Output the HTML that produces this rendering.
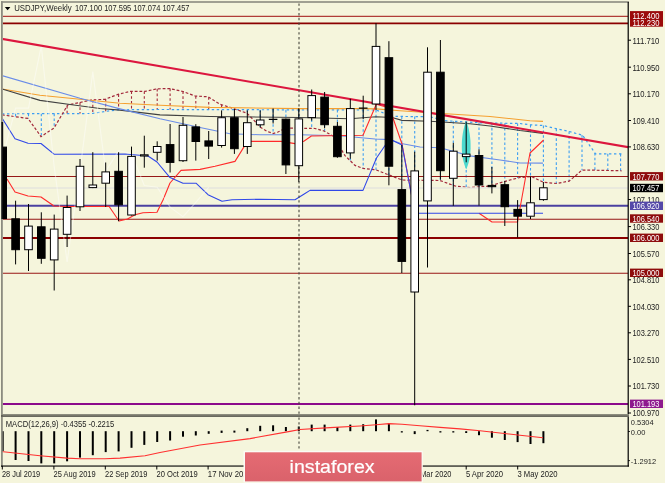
<!DOCTYPE html>
<html><head><meta charset="utf-8"><style>
html,body{margin:0;padding:0;background:#F5F5DC;width:665px;height:483px;overflow:hidden}
svg{position:absolute;left:0;top:0;filter:blur(0.3px)}
text{font-family:"Liberation Sans",Arial,sans-serif}
</style></head><body>
<svg width="665" height="483" viewBox="0 0 665 483">
<rect x="0" y="0" width="665" height="483" fill="#F5F5DC"/>

<defs><clipPath id="cm"><rect x="2.8" y="2.8" width="625.2" height="411.5"/></clipPath><clipPath id="cd"><rect x="1" y="417" width="627" height="49"/></clipPath></defs>
<g clip-path="url(#cm)">
<line x1="15.6" y1="113.8" x2="15.6" y2="116.7" stroke="#3C9EF2" stroke-width="1.1" stroke-dasharray="2.6,2.2"/>
<line x1="28.5" y1="113.7" x2="28.5" y2="119.1" stroke="#3C9EF2" stroke-width="1.1" stroke-dasharray="2.6,2.2"/>
<line x1="41.3" y1="113.7" x2="41.3" y2="136.4" stroke="#3C9EF2" stroke-width="1.1" stroke-dasharray="2.6,2.2"/>
<line x1="54.2" y1="113.6" x2="54.2" y2="127.6" stroke="#3C9EF2" stroke-width="1.1" stroke-dasharray="2.6,2.2"/>
<line x1="67.1" y1="106.0" x2="67.1" y2="113.6" stroke="#A3283A" stroke-width="1.1" stroke-dasharray="2.6,2.2"/>
<line x1="80.0" y1="102.5" x2="80.0" y2="113.5" stroke="#A3283A" stroke-width="1.1" stroke-dasharray="2.6,2.2"/>
<line x1="92.8" y1="99.9" x2="92.8" y2="113.4" stroke="#A3283A" stroke-width="1.1" stroke-dasharray="2.6,2.2"/>
<line x1="105.7" y1="99.0" x2="105.7" y2="111.4" stroke="#A3283A" stroke-width="1.1" stroke-dasharray="2.6,2.2"/>
<line x1="118.6" y1="94.3" x2="118.6" y2="109.8" stroke="#A3283A" stroke-width="1.1" stroke-dasharray="2.6,2.2"/>
<line x1="131.5" y1="91.4" x2="131.5" y2="109.7" stroke="#A3283A" stroke-width="1.1" stroke-dasharray="2.6,2.2"/>
<line x1="144.3" y1="91.4" x2="144.3" y2="109.6" stroke="#A3283A" stroke-width="1.1" stroke-dasharray="2.6,2.2"/>
<line x1="157.2" y1="88.8" x2="157.2" y2="109.5" stroke="#A3283A" stroke-width="1.1" stroke-dasharray="2.6,2.2"/>
<line x1="170.1" y1="88.6" x2="170.1" y2="109.5" stroke="#A3283A" stroke-width="1.1" stroke-dasharray="2.6,2.2"/>
<line x1="183.0" y1="91.5" x2="183.0" y2="109.6" stroke="#A3283A" stroke-width="1.1" stroke-dasharray="2.6,2.2"/>
<line x1="195.8" y1="96.1" x2="195.8" y2="109.6" stroke="#A3283A" stroke-width="1.1" stroke-dasharray="2.6,2.2"/>
<line x1="208.7" y1="97.2" x2="208.7" y2="109.6" stroke="#A3283A" stroke-width="1.1" stroke-dasharray="2.6,2.2"/>
<line x1="221.6" y1="104.8" x2="221.6" y2="109.6" stroke="#A3283A" stroke-width="1.1" stroke-dasharray="2.6,2.2"/>
<line x1="247.3" y1="109.7" x2="247.3" y2="113.5" stroke="#3C9EF2" stroke-width="1.1" stroke-dasharray="2.6,2.2"/>
<line x1="260.2" y1="109.7" x2="260.2" y2="127.1" stroke="#3C9EF2" stroke-width="1.1" stroke-dasharray="2.6,2.2"/>
<line x1="273.1" y1="109.8" x2="273.1" y2="133.5" stroke="#3C9EF2" stroke-width="1.1" stroke-dasharray="2.6,2.2"/>
<line x1="285.9" y1="109.8" x2="285.9" y2="128.0" stroke="#3C9EF2" stroke-width="1.1" stroke-dasharray="2.6,2.2"/>
<line x1="298.8" y1="109.8" x2="298.8" y2="128.2" stroke="#3C9EF2" stroke-width="1.1" stroke-dasharray="2.6,2.2"/>
<line x1="311.7" y1="109.9" x2="311.7" y2="128.4" stroke="#3C9EF2" stroke-width="1.1" stroke-dasharray="2.6,2.2"/>
<line x1="324.6" y1="109.9" x2="324.6" y2="131.3" stroke="#3C9EF2" stroke-width="1.1" stroke-dasharray="2.6,2.2"/>
<line x1="337.4" y1="109.9" x2="337.4" y2="143.2" stroke="#3C9EF2" stroke-width="1.1" stroke-dasharray="2.6,2.2"/>
<line x1="350.3" y1="109.9" x2="350.3" y2="160.8" stroke="#3C9EF2" stroke-width="1.1" stroke-dasharray="2.6,2.2"/>
<line x1="363.2" y1="110.0" x2="363.2" y2="168.4" stroke="#3C9EF2" stroke-width="1.1" stroke-dasharray="2.6,2.2"/>
<line x1="376.0" y1="110.0" x2="376.0" y2="169.9" stroke="#3C9EF2" stroke-width="1.1" stroke-dasharray="2.6,2.2"/>
<line x1="388.9" y1="115.1" x2="388.9" y2="175.0" stroke="#3C9EF2" stroke-width="1.1" stroke-dasharray="2.6,2.2"/>
<line x1="401.8" y1="116.4" x2="401.8" y2="179.9" stroke="#3C9EF2" stroke-width="1.1" stroke-dasharray="2.6,2.2"/>
<line x1="414.7" y1="116.6" x2="414.7" y2="180.2" stroke="#3C9EF2" stroke-width="1.1" stroke-dasharray="2.6,2.2"/>
<line x1="427.5" y1="116.8" x2="427.5" y2="180.3" stroke="#3C9EF2" stroke-width="1.1" stroke-dasharray="2.6,2.2"/>
<line x1="440.4" y1="119.5" x2="440.4" y2="180.7" stroke="#3C9EF2" stroke-width="1.1" stroke-dasharray="2.6,2.2"/>
<line x1="453.3" y1="121.2" x2="453.3" y2="185.4" stroke="#3C9EF2" stroke-width="1.1" stroke-dasharray="2.6,2.2"/>
<line x1="466.2" y1="122.0" x2="466.2" y2="187.1" stroke="#3C9EF2" stroke-width="1.1" stroke-dasharray="2.6,2.2"/>
<line x1="479.0" y1="122.7" x2="479.0" y2="186.8" stroke="#3C9EF2" stroke-width="1.1" stroke-dasharray="2.6,2.2"/>
<line x1="491.9" y1="123.0" x2="491.9" y2="185.4" stroke="#3C9EF2" stroke-width="1.1" stroke-dasharray="2.6,2.2"/>
<line x1="504.8" y1="123.2" x2="504.8" y2="181.5" stroke="#3C9EF2" stroke-width="1.1" stroke-dasharray="2.6,2.2"/>
<line x1="517.6" y1="123.5" x2="517.6" y2="178.1" stroke="#3C9EF2" stroke-width="1.1" stroke-dasharray="2.6,2.2"/>
<line x1="530.5" y1="124.8" x2="530.5" y2="176.7" stroke="#3C9EF2" stroke-width="1.1" stroke-dasharray="2.6,2.2"/>
<line x1="543.4" y1="125.6" x2="543.4" y2="182.3" stroke="#3C9EF2" stroke-width="1.1" stroke-dasharray="2.6,2.2"/>
<line x1="556.3" y1="128.7" x2="556.3" y2="183.5" stroke="#3C9EF2" stroke-width="1.1" stroke-dasharray="2.6,2.2"/>
<line x1="569.1" y1="131.4" x2="569.1" y2="181.1" stroke="#3C9EF2" stroke-width="1.1" stroke-dasharray="2.6,2.2"/>
<line x1="582.0" y1="135.1" x2="582.0" y2="170.2" stroke="#3C9EF2" stroke-width="1.1" stroke-dasharray="2.6,2.2"/>
<line x1="594.9" y1="152.9" x2="594.9" y2="170.2" stroke="#3C9EF2" stroke-width="1.1" stroke-dasharray="2.6,2.2"/>
<line x1="607.8" y1="153.8" x2="607.8" y2="170.5" stroke="#3C9EF2" stroke-width="1.1" stroke-dasharray="2.6,2.2"/>
<line x1="620.6" y1="153.8" x2="620.6" y2="170.8" stroke="#3C9EF2" stroke-width="1.1" stroke-dasharray="2.6,2.2"/>
<polyline points="2.0,113.8 92.0,113.5 105.0,111.5 118.0,109.8 160.0,109.5 376.0,110.0 392.0,116.3 430.0,116.8 445.0,120.7 480.0,122.8 520.0,123.5 531.0,124.9 543.0,125.5 556.0,128.6 569.0,131.4 582.5,135.2 595.5,153.8 621.6,153.8" fill="none" stroke="#3C9EF2" stroke-width="1.2" stroke-dasharray="2.4,2.6"/>
<polyline points="2.0,114.9 28.0,118.4 41.0,136.6 54.0,128.0 67.7,105.0 80.0,102.5 92.0,99.9 105.0,99.3 118.0,94.4 130.0,91.4 145.0,91.4 157.0,88.8 170.0,88.6 183.0,91.5 195.0,96.0 208.0,96.8 220.0,104.3 230.0,107.3 234.0,108.8 247.0,113.2 254.0,120.4 260.0,127.0 267.0,131.3 273.0,133.5 278.0,132.0 286.0,128.0 300.0,128.2 315.0,128.5 324.0,131.0 333.0,136.0 345.0,155.6 355.0,165.4 363.0,168.4 376.0,169.9 389.0,175.0 402.0,180.0 440.0,180.5 455.0,186.0 470.0,187.5 490.0,186.0 500.0,182.9 510.0,180.0 520.0,177.5 531.8,176.6 543.4,182.3 556.5,183.5 569.2,181.1 576.4,175.0 581.8,170.2 595.5,170.2 621.6,170.8" fill="none" stroke="#A3283A" stroke-width="1.2" stroke-dasharray="2.8,1.9"/>
<line x1="0" y1="16.3" x2="630" y2="16.3" stroke="#A01010" stroke-width="1"/>
<line x1="0" y1="23.3" x2="630" y2="23.3" stroke="#8B0000" stroke-width="1.8"/>
<line x1="0" y1="176.5" x2="630" y2="176.5" stroke="#961818" stroke-width="1.1"/>
<line x1="0" y1="187.9" x2="630" y2="187.9" stroke="#E4E4DE" stroke-width="1.5"/>
<line x1="0" y1="205.8" x2="630" y2="205.8" stroke="#4A40A0" stroke-width="2"/>
<line x1="0" y1="219.2" x2="630" y2="219.2" stroke="#941414" stroke-width="1.1"/>
<line x1="0" y1="238" x2="630" y2="238" stroke="#8B0000" stroke-width="2"/>
<line x1="0" y1="273.2" x2="630" y2="273.2" stroke="#981616" stroke-width="1.1"/>
<line x1="0" y1="404.1" x2="630" y2="404.1" stroke="#8B0A8B" stroke-width="2"/>
<polyline points="2.0,89.0 40.0,95.2 80.0,99.3 120.0,103.3 160.0,105.3 210.0,107.4 300.0,108.6 363.0,108.6 376.0,108.9 400.0,110.8 430.0,112.8 490.0,116.5 530.0,120.7 543.0,121.4" fill="none" stroke="#F5A030" stroke-width="1.1" stroke-linejoin="round"/>
<polyline points="2.0,89.0 40.0,100.4 70.0,104.5 100.0,108.5 120.0,110.1 160.0,114.9 210.0,116.5 300.0,117.5 350.0,118.8 376.0,116.7 392.0,117.5 402.0,120.4 430.0,121.3 470.0,123.8 490.0,126.0 520.0,130.5 543.0,133.4" fill="none" stroke="#404040" stroke-width="1.1" stroke-linejoin="round"/>
<polyline points="2.0,75.6 80.0,98.3 120.0,108.9 160.0,118.7 200.0,127.5 230.0,133.7 260.0,134.8 300.0,134.8 340.0,135.8 375.0,139.0 390.0,139.6 400.0,143.3 420.0,147.0 440.0,147.8 470.0,155.9 500.0,160.0 520.0,163.0 543.0,163.1" fill="none" stroke="#6A8CE8" stroke-width="1.1" stroke-linejoin="round"/>
<polyline points="7.0,179.0 15.0,192.0 28.0,196.0 41.0,197.0 54.0,206.0 67.0,206.5 109.0,206.2 119.0,221.0 127.5,219.0 135.0,214.8 143.0,212.8 157.0,212.3 163.0,200.0 170.0,183.0 181.0,170.4 200.0,169.4 215.0,166.3 235.0,161.4 247.4,141.4 281.0,141.4 295.0,143.6 303.8,141.3 311.4,136.0 363.0,135.3 376.3,104.3 389.5,108.0 402.0,144.0 415.0,213.3" fill="none" stroke="#FF2A2A" stroke-width="1.1" stroke-linejoin="round"/>
<polyline points="479.0,213.3 492.0,222.0 517.5,222.0 530.0,153.0 543.6,140.0" fill="none" stroke="#FF2A2A" stroke-width="1.1" stroke-linejoin="round"/>
<polyline points="2.0,118.0 15.0,138.7 28.0,143.2 41.0,143.5 54.0,154.2 125.0,154.0 148.0,156.0 157.0,162.0 170.0,177.6 183.0,183.2 196.0,183.2 208.0,194.7 222.0,201.2 232.0,199.7 260.0,199.2 295.0,199.8 305.0,193.5 310.0,190.4 363.0,190.4 376.5,158.0 389.5,139.0 402.0,145.0 415.0,213.3 543.0,213.3" fill="none" stroke="#3048E8" stroke-width="1.1" stroke-linejoin="round"/>
<polyline points="2.7,157.2 15.6,108.1 28.5,108.1 41.3,45.9 54.2,166.7 67.1,261.9 80.0,170.4 92.8,71.7 105.7,171.2 118.6,150.7 131.5,153.6 144.3,185.5 157.2,187.2 170.1,207.2 183.0,216.7 195.8,202.3 208.7,187.3" fill="none" stroke="#FFFFFF" stroke-width="1.2" stroke-opacity="0.42"/>
<line x1="0" y1="38.5" x2="630" y2="147.5" stroke="#DC163E" stroke-width="2.1"/>
<path d="M466.2,120.7 C469.2,128 470.8,138 470.6,148 C470.4,158 468.2,165 466.2,169.4 C464.2,165 462.0,158 461.8,148 C461.6,138 463.2,128 466.2,120.7 Z" fill="#4CD9CF"/>
<line x1="299" y1="3.4" x2="299" y2="415" stroke="#45453C" stroke-width="1.1" stroke-dasharray="2.4,2.4"/>
<line x1="2.7" y1="122" x2="2.7" y2="219" stroke="#000" stroke-width="1"/>
<rect x="-1.1" y="147.1" width="7.6" height="71.4" fill="#000" stroke="#000" stroke-width="1"/>
<line x1="15.6" y1="200.7" x2="15.6" y2="264.4" stroke="#000" stroke-width="1"/>
<rect x="11.8" y="218.8" width="7.6" height="30.9" fill="#000" stroke="#000" stroke-width="1"/>
<line x1="28.5" y1="204" x2="28.5" y2="271" stroke="#000" stroke-width="1"/>
<rect x="24.7" y="226.1" width="7.6" height="23.6" fill="#FFF" stroke="#000" stroke-width="1"/>
<line x1="41.3" y1="212.3" x2="41.3" y2="263.8" stroke="#000" stroke-width="1"/>
<rect x="37.5" y="226.8" width="7.6" height="31.5" fill="#000" stroke="#000" stroke-width="1"/>
<line x1="54.2" y1="214.6" x2="54.2" y2="290.5" stroke="#000" stroke-width="1"/>
<rect x="50.4" y="229.1" width="7.6" height="30.8" fill="#FFF" stroke="#000" stroke-width="1"/>
<line x1="67.1" y1="195.6" x2="67.1" y2="247" stroke="#000" stroke-width="1"/>
<rect x="63.3" y="207.5" width="7.6" height="26.8" fill="#FFF" stroke="#000" stroke-width="1"/>
<line x1="80.0" y1="159" x2="80.0" y2="211" stroke="#000" stroke-width="1"/>
<rect x="76.2" y="166.3" width="7.6" height="40.5" fill="#FFF" stroke="#000" stroke-width="1"/>
<line x1="92.8" y1="152.2" x2="92.8" y2="188.1" stroke="#000" stroke-width="1"/>
<rect x="89.0" y="185.0" width="7.6" height="2.6" fill="#FFF" stroke="#000" stroke-width="1"/>
<line x1="105.7" y1="162.5" x2="105.7" y2="207" stroke="#000" stroke-width="1"/>
<rect x="101.9" y="171.9" width="7.6" height="11.3" fill="#FFF" stroke="#000" stroke-width="1"/>
<line x1="118.6" y1="152.2" x2="118.6" y2="221.2" stroke="#000" stroke-width="1"/>
<rect x="114.8" y="171.3" width="7.6" height="33.5" fill="#000" stroke="#000" stroke-width="1"/>
<line x1="131.5" y1="146.6" x2="131.5" y2="215.5" stroke="#000" stroke-width="1"/>
<rect x="127.7" y="156.4" width="7.6" height="58.6" fill="#FFF" stroke="#000" stroke-width="1"/>
<line x1="144.3" y1="135.7" x2="144.3" y2="167.7" stroke="#000" stroke-width="1"/>
<rect x="140.5" y="154.8" width="7.6" height="1.2" fill="#FFF" stroke="#000" stroke-width="1"/>
<line x1="157.2" y1="141.3" x2="157.2" y2="160.6" stroke="#000" stroke-width="1"/>
<rect x="153.4" y="146.5" width="7.6" height="5.8" fill="#FFF" stroke="#000" stroke-width="1"/>
<line x1="170.1" y1="124" x2="170.1" y2="172.5" stroke="#000" stroke-width="1"/>
<rect x="166.3" y="144.6" width="7.6" height="17.8" fill="#000" stroke="#000" stroke-width="1"/>
<line x1="183.0" y1="117" x2="183.0" y2="162" stroke="#000" stroke-width="1"/>
<rect x="179.2" y="125.3" width="7.6" height="35.4" fill="#FFF" stroke="#000" stroke-width="1"/>
<line x1="195.8" y1="124.2" x2="195.8" y2="160.6" stroke="#000" stroke-width="1"/>
<rect x="192.0" y="126.9" width="7.6" height="14.6" fill="#000" stroke="#000" stroke-width="1"/>
<line x1="208.7" y1="131" x2="208.7" y2="159" stroke="#000" stroke-width="1"/>
<rect x="204.9" y="140.9" width="7.6" height="5.2" fill="#000" stroke="#000" stroke-width="1"/>
<line x1="221.6" y1="110.4" x2="221.6" y2="147.6" stroke="#000" stroke-width="1"/>
<rect x="217.8" y="117.7" width="7.6" height="27.8" fill="#FFF" stroke="#000" stroke-width="1"/>
<line x1="234.4" y1="108.8" x2="234.4" y2="153.9" stroke="#000" stroke-width="1"/>
<rect x="230.6" y="117.7" width="7.6" height="31.0" fill="#000" stroke="#000" stroke-width="1"/>
<line x1="247.3" y1="110.4" x2="247.3" y2="153.9" stroke="#000" stroke-width="1"/>
<rect x="243.5" y="122.7" width="7.6" height="23.8" fill="#FFF" stroke="#000" stroke-width="1"/>
<line x1="260.2" y1="110.4" x2="260.2" y2="127.4" stroke="#000" stroke-width="1"/>
<rect x="256.4" y="120.0" width="7.6" height="4.8" fill="#FFF" stroke="#000" stroke-width="1"/>
<line x1="273.1" y1="108.5" x2="273.1" y2="123.5" stroke="#000" stroke-width="1"/>
<line x1="268.8" y1="119.3" x2="277.4" y2="119.3" stroke="#000" stroke-width="1.2"/>
<line x1="285.9" y1="118.6" x2="285.9" y2="174" stroke="#000" stroke-width="1"/>
<rect x="282.1" y="119.1" width="7.6" height="45.8" fill="#000" stroke="#000" stroke-width="1"/>
<line x1="298.8" y1="108.3" x2="298.8" y2="181.8" stroke="#000" stroke-width="1"/>
<rect x="295.0" y="118.9" width="7.6" height="46.8" fill="#FFF" stroke="#000" stroke-width="1"/>
<line x1="311.7" y1="89.5" x2="311.7" y2="120.6" stroke="#000" stroke-width="1"/>
<rect x="307.9" y="95.6" width="7.6" height="22.0" fill="#FFF" stroke="#000" stroke-width="1"/>
<line x1="324.6" y1="92" x2="324.6" y2="128.3" stroke="#000" stroke-width="1"/>
<rect x="320.8" y="97.1" width="7.6" height="27.6" fill="#000" stroke="#000" stroke-width="1"/>
<line x1="337.4" y1="122" x2="337.4" y2="157.8" stroke="#000" stroke-width="1"/>
<rect x="333.6" y="126.3" width="7.6" height="30.4" fill="#000" stroke="#000" stroke-width="1"/>
<line x1="350.3" y1="98.8" x2="350.3" y2="158.7" stroke="#000" stroke-width="1"/>
<rect x="346.5" y="108.6" width="7.6" height="44.3" fill="#FFF" stroke="#000" stroke-width="1"/>
<line x1="363.2" y1="95.7" x2="363.2" y2="119" stroke="#000" stroke-width="1"/>
<line x1="358.9" y1="108.1" x2="367.5" y2="108.1" stroke="#000" stroke-width="1.2"/>
<line x1="376.0" y1="23.2" x2="376.0" y2="110" stroke="#000" stroke-width="1"/>
<rect x="372.2" y="46.4" width="7.6" height="57.6" fill="#FFF" stroke="#000" stroke-width="1"/>
<line x1="388.9" y1="41.2" x2="388.9" y2="185.3" stroke="#000" stroke-width="1"/>
<rect x="385.1" y="57.7" width="7.6" height="108.5" fill="#000" stroke="#000" stroke-width="1"/>
<line x1="401.8" y1="145" x2="401.8" y2="273" stroke="#000" stroke-width="1"/>
<rect x="398.0" y="189.6" width="7.6" height="71.8" fill="#000" stroke="#000" stroke-width="1"/>
<line x1="414.7" y1="151.7" x2="414.7" y2="405.3" stroke="#000" stroke-width="1"/>
<rect x="410.9" y="170.9" width="7.6" height="121.1" fill="#FFF" stroke="#000" stroke-width="1"/>
<line x1="427.5" y1="47.3" x2="427.5" y2="267.5" stroke="#000" stroke-width="1"/>
<rect x="423.7" y="72.2" width="7.6" height="128.7" fill="#FFF" stroke="#000" stroke-width="1"/>
<line x1="440.4" y1="40" x2="440.4" y2="179.7" stroke="#000" stroke-width="1"/>
<rect x="436.6" y="72.2" width="7.6" height="98.5" fill="#000" stroke="#000" stroke-width="1"/>
<line x1="453.3" y1="142.9" x2="453.3" y2="205.8" stroke="#000" stroke-width="1"/>
<rect x="449.5" y="151.2" width="7.6" height="27.1" fill="#FFF" stroke="#000" stroke-width="1"/>
<line x1="466.2" y1="121.7" x2="466.2" y2="162.3" stroke="#000" stroke-width="1"/>
<rect x="462.4" y="154.1" width="7.6" height="2.5" fill="#FFF" stroke="#000" stroke-width="1"/>
<line x1="479.0" y1="149.3" x2="479.0" y2="205.6" stroke="#000" stroke-width="1"/>
<rect x="475.2" y="155.5" width="7.6" height="29.5" fill="#000" stroke="#000" stroke-width="1"/>
<line x1="491.9" y1="167" x2="491.9" y2="193.4" stroke="#000" stroke-width="1"/>
<rect x="488.1" y="185.4" width="7.6" height="1.3" fill="#000" stroke="#000" stroke-width="1"/>
<line x1="504.8" y1="181" x2="504.8" y2="226" stroke="#000" stroke-width="1"/>
<rect x="501.0" y="184.7" width="7.6" height="22.0" fill="#000" stroke="#000" stroke-width="1"/>
<line x1="517.6" y1="200.1" x2="517.6" y2="237.5" stroke="#000" stroke-width="1"/>
<rect x="513.9" y="209.4" width="7.6" height="6.8" fill="#000" stroke="#000" stroke-width="1"/>
<line x1="530.5" y1="176.7" x2="530.5" y2="219" stroke="#000" stroke-width="1"/>
<rect x="526.7" y="202.8" width="7.6" height="13.4" fill="#FFF" stroke="#000" stroke-width="1"/>
<line x1="543.4" y1="182" x2="543.4" y2="200.8" stroke="#000" stroke-width="1"/>
<rect x="539.6" y="187.8" width="7.6" height="11.8" fill="#FFF" stroke="#000" stroke-width="1"/>
</g>
<g clip-path="url(#cd)">
<rect x="1.7" y="431.2" width="2" height="19.8" fill="#000"/>
<rect x="14.6" y="431.2" width="2" height="28.8" fill="#000"/>
<rect x="27.5" y="431.2" width="2" height="29.8" fill="#000"/>
<rect x="40.3" y="431.2" width="2" height="32.2" fill="#000"/>
<rect x="53.2" y="431.2" width="2" height="32.2" fill="#000"/>
<rect x="66.1" y="431.2" width="2" height="30.1" fill="#000"/>
<rect x="79.0" y="431.2" width="2" height="26.4" fill="#000"/>
<rect x="91.8" y="431.2" width="2" height="24.0" fill="#000"/>
<rect x="104.7" y="431.2" width="2" height="20.9" fill="#000"/>
<rect x="117.6" y="431.2" width="2" height="20.2" fill="#000"/>
<rect x="130.5" y="431.2" width="2" height="16.6" fill="#000"/>
<rect x="143.3" y="431.2" width="2" height="13.7" fill="#000"/>
<rect x="156.2" y="431.2" width="2" height="10.8" fill="#000"/>
<rect x="169.1" y="431.2" width="2" height="9.3" fill="#000"/>
<rect x="182.0" y="431.2" width="2" height="5.5" fill="#000"/>
<rect x="194.8" y="431.2" width="2" height="4.3" fill="#000"/>
<rect x="207.7" y="431.2" width="2" height="2.6" fill="#000"/>
<rect x="220.6" y="430.6" width="2" height="2.3" fill="#000"/>
<rect x="233.4" y="430.6" width="2" height="2.0" fill="#000"/>
<rect x="246.3" y="428.2" width="2" height="3.0" fill="#000"/>
<rect x="259.2" y="425.8" width="2" height="5.4" fill="#000"/>
<rect x="272.1" y="425.3" width="2" height="5.9" fill="#000"/>
<rect x="284.9" y="427.0" width="2" height="4.2" fill="#000"/>
<rect x="297.8" y="426.5" width="2" height="4.7" fill="#000"/>
<rect x="310.7" y="424.6" width="2" height="6.6" fill="#000"/>
<rect x="323.6" y="424.6" width="2" height="6.6" fill="#000"/>
<rect x="336.4" y="427.0" width="2" height="4.2" fill="#000"/>
<rect x="349.3" y="424.6" width="2" height="6.6" fill="#000"/>
<rect x="362.2" y="424.2" width="2" height="7.0" fill="#000"/>
<rect x="375.0" y="419.4" width="2" height="11.8" fill="#000"/>
<rect x="387.9" y="423.0" width="2" height="8.2" fill="#000"/>
<rect x="400.8" y="431.2" width="2" height="1.3" fill="#000"/>
<rect x="413.7" y="431.2" width="2" height="2.9" fill="#000"/>
<rect x="426.5" y="429.9" width="2" height="1.3" fill="#000"/>
<rect x="439.4" y="431.2" width="2" height="1.3" fill="#000"/>
<rect x="452.3" y="431.2" width="2" height="1.3" fill="#000"/>
<rect x="465.2" y="431.2" width="2" height="1.8" fill="#000"/>
<rect x="478.0" y="431.2" width="2" height="4.0" fill="#000"/>
<rect x="490.9" y="431.2" width="2" height="6.5" fill="#000"/>
<rect x="503.8" y="431.2" width="2" height="8.8" fill="#000"/>
<rect x="516.6" y="431.2" width="2" height="10.9" fill="#000"/>
<rect x="529.5" y="431.2" width="2" height="12.8" fill="#000"/>
<rect x="542.4" y="431.2" width="2" height="12.0" fill="#000"/>
<polyline points="0.0,451.4 40.0,455.7 67.0,458.1 80.0,458.8 105.0,458.8 120.0,458.1 145.0,455.7 160.0,452.5 200.0,445.0 250.0,438.6 290.0,431.4 300.0,429.5 330.0,427.6 360.0,426.0 376.0,424.8 389.0,423.6 402.0,424.3 420.0,425.8 440.0,427.4 460.0,428.9 480.0,430.8 500.0,433.0 520.0,435.3 543.0,437.7" fill="none" stroke="#FF3030" stroke-width="1.1"/>
<line x1="299" y1="417.4" x2="299" y2="466" stroke="#45453C" stroke-width="1.1" stroke-dasharray="2.4,2.4"/>
</g>
<text x="5.8" y="427" font-size="8.2" fill="#222" textLength="108.5" lengthAdjust="spacingAndGlyphs">MACD(12,26,9) -0.4355 -0.2215</text>
<rect x="1" y="1.2" width="1.8" height="415" fill="#8C8C80"/>
<rect x="1" y="1.2" width="628" height="1.6" fill="#8C8C80"/>
<rect x="627.6" y="2" width="1.2" height="413" fill="#000"/>
<rect x="1.4" y="122" width="1.6" height="97" fill="#111"/>
<rect x="1" y="414" width="628" height="1.5" fill="#8C8C7E"/>
<rect x="1" y="415.5" width="628" height="1.2" fill="#2E2E2A"/>
<rect x="1" y="417" width="1.8" height="50" fill="#8C8C80"/>
<rect x="627.6" y="417" width="1.2" height="49.5" fill="#000"/>
<rect x="1" y="465.5" width="628" height="1.1" fill="#000"/>
<path d="M4.8,7 L10.4,7 L7.6,10.3 Z" fill="#000"/>
<text x="14.2" y="11.2" font-size="8.2" fill="#222" textLength="57.5" lengthAdjust="spacingAndGlyphs">USDJPY,Weekly</text>
<text x="75" y="11.2" font-size="8.2" fill="#222" textLength="114.5" lengthAdjust="spacingAndGlyphs">107.100 107.595 107.074 107.457</text>
<line x1="628" y1="40.2" x2="631" y2="40.2" stroke="#000" stroke-width="1"/>
<text x="632.4" y="43.5" font-size="8.2" fill="#222" textLength="27" lengthAdjust="spacingAndGlyphs">111.710</text>
<line x1="628" y1="67.2" x2="631" y2="67.2" stroke="#000" stroke-width="1"/>
<text x="632.4" y="70.5" font-size="8.2" fill="#222" textLength="27" lengthAdjust="spacingAndGlyphs">110.950</text>
<line x1="628" y1="93.8" x2="631" y2="93.8" stroke="#000" stroke-width="1"/>
<text x="632.4" y="97.1" font-size="8.2" fill="#222" textLength="27" lengthAdjust="spacingAndGlyphs">110.170</text>
<line x1="628" y1="120.5" x2="631" y2="120.5" stroke="#000" stroke-width="1"/>
<text x="632.4" y="123.8" font-size="8.2" fill="#222" textLength="27" lengthAdjust="spacingAndGlyphs">109.410</text>
<line x1="628" y1="146.9" x2="631" y2="146.9" stroke="#000" stroke-width="1"/>
<text x="632.4" y="150.2" font-size="8.2" fill="#222" textLength="27" lengthAdjust="spacingAndGlyphs">108.630</text>
<line x1="628" y1="199.5" x2="631" y2="199.5" stroke="#000" stroke-width="1"/>
<text x="632.4" y="202.8" font-size="8.2" fill="#222" textLength="27" lengthAdjust="spacingAndGlyphs">107.110</text>
<line x1="628" y1="226.6" x2="631" y2="226.6" stroke="#000" stroke-width="1"/>
<text x="632.4" y="229.9" font-size="8.2" fill="#222" textLength="27" lengthAdjust="spacingAndGlyphs">106.330</text>
<line x1="628" y1="253.5" x2="631" y2="253.5" stroke="#000" stroke-width="1"/>
<text x="632.4" y="256.8" font-size="8.2" fill="#222" textLength="27" lengthAdjust="spacingAndGlyphs">105.570</text>
<line x1="628" y1="279.8" x2="631" y2="279.8" stroke="#000" stroke-width="1"/>
<text x="632.4" y="283.1" font-size="8.2" fill="#222" textLength="27" lengthAdjust="spacingAndGlyphs">104.810</text>
<line x1="628" y1="306.3" x2="631" y2="306.3" stroke="#000" stroke-width="1"/>
<text x="632.4" y="309.6" font-size="8.2" fill="#222" textLength="27" lengthAdjust="spacingAndGlyphs">104.030</text>
<line x1="628" y1="332.8" x2="631" y2="332.8" stroke="#000" stroke-width="1"/>
<text x="632.4" y="336.1" font-size="8.2" fill="#222" textLength="27" lengthAdjust="spacingAndGlyphs">103.270</text>
<line x1="628" y1="359.4" x2="631" y2="359.4" stroke="#000" stroke-width="1"/>
<text x="632.4" y="362.7" font-size="8.2" fill="#222" textLength="27" lengthAdjust="spacingAndGlyphs">102.510</text>
<line x1="628" y1="386" x2="631" y2="386" stroke="#000" stroke-width="1"/>
<text x="632.4" y="389.3" font-size="8.2" fill="#222" textLength="27" lengthAdjust="spacingAndGlyphs">101.730</text>
<line x1="628" y1="413" x2="631" y2="413" stroke="#000" stroke-width="1"/>
<text x="632.4" y="416.3" font-size="8.2" fill="#222" textLength="27" lengthAdjust="spacingAndGlyphs">100.970</text>
<rect x="630" y="18.3" width="33" height="8.4" fill="#9B0A0A"/>
<text x="632.4" y="25.8" font-size="8.2" fill="#FFF" textLength="27" lengthAdjust="spacingAndGlyphs">112.230</text>
<rect x="630" y="11.1" width="33" height="8.4" fill="#9B0A0A"/>
<text x="632.4" y="18.6" font-size="8.2" fill="#FFF" textLength="27" lengthAdjust="spacingAndGlyphs">112.400</text>
<rect x="630" y="172.1" width="33" height="8.4" fill="#8E0C0C"/>
<text x="632.4" y="179.6" font-size="8.2" fill="#FFF" textLength="27" lengthAdjust="spacingAndGlyphs">107.770</text>
<rect x="630" y="183.8" width="33" height="8.4" fill="#000"/>
<text x="632.4" y="191.3" font-size="8.2" fill="#FFF" textLength="27" lengthAdjust="spacingAndGlyphs">107.457</text>
<rect x="630" y="201.6" width="33" height="8.4" fill="#5448A8"/>
<text x="632.4" y="209.1" font-size="8.2" fill="#FFF" textLength="27" lengthAdjust="spacingAndGlyphs">106.920</text>
<rect x="630" y="214.3" width="33" height="8.4" fill="#8E0C0C"/>
<text x="632.4" y="221.8" font-size="8.2" fill="#FFF" textLength="27" lengthAdjust="spacingAndGlyphs">106.540</text>
<rect x="630" y="233.6" width="33" height="8.4" fill="#8E0C0C"/>
<text x="632.4" y="241.1" font-size="8.2" fill="#FFF" textLength="27" lengthAdjust="spacingAndGlyphs">106.000</text>
<rect x="630" y="268.6" width="33" height="8.4" fill="#8E0C0C"/>
<text x="632.4" y="276.1" font-size="8.2" fill="#FFF" textLength="27" lengthAdjust="spacingAndGlyphs">105.000</text>
<rect x="630" y="399.6" width="33" height="8.4" fill="#8E1A8E"/>
<text x="632.4" y="407.1" font-size="8.2" fill="#FFF" textLength="27" lengthAdjust="spacingAndGlyphs">101.193</text>
<text x="630.8" y="424.9" font-size="7.6" fill="#222" textLength="22.8" lengthAdjust="spacingAndGlyphs">0.5304</text>
<line x1="628" y1="431.5" x2="630" y2="431.5" stroke="#000" stroke-width="0.8"/>
<text x="630.8" y="434.6" font-size="7.6" fill="#222" textLength="14.6" lengthAdjust="spacingAndGlyphs">0.00</text>
<line x1="628" y1="460.6" x2="630" y2="460.6" stroke="#000" stroke-width="0.8"/>
<text x="630.8" y="463.7" font-size="7.6" fill="#222" textLength="25.4" lengthAdjust="spacingAndGlyphs">-1.2912</text>
<line x1="2.3" y1="466" x2="2.3" y2="469.5" stroke="#000" stroke-width="1"/>
<text x="1.9999999999999998" y="476.6" font-size="8.2" fill="#222" textLength="38.2" lengthAdjust="spacingAndGlyphs">28 Jul 2019</text>
<line x1="53.9" y1="466" x2="53.9" y2="469.5" stroke="#000" stroke-width="1"/>
<text x="53.6" y="476.6" font-size="8.2" fill="#222" textLength="42.1" lengthAdjust="spacingAndGlyphs">25 Aug 2019</text>
<line x1="105.3" y1="466" x2="105.3" y2="469.5" stroke="#000" stroke-width="1"/>
<text x="105.0" y="476.6" font-size="8.2" fill="#222" textLength="42.3" lengthAdjust="spacingAndGlyphs">22 Sep 2019</text>
<line x1="156.8" y1="466" x2="156.8" y2="469.5" stroke="#000" stroke-width="1"/>
<text x="156.5" y="476.6" font-size="8.2" fill="#222" textLength="41.3" lengthAdjust="spacingAndGlyphs">20 Oct 2019</text>
<line x1="208.1" y1="466" x2="208.1" y2="469.5" stroke="#000" stroke-width="1"/>
<text x="207.79999999999998" y="476.6" font-size="8.2" fill="#222" textLength="44.2" lengthAdjust="spacingAndGlyphs">17 Nov 2019</text>
<line x1="259.8" y1="466" x2="259.8" y2="469.5" stroke="#000" stroke-width="1"/>
<text x="259.5" y="476.6" font-size="8.2" fill="#222" textLength="42.8" lengthAdjust="spacingAndGlyphs">15 Dec 2019</text>
<line x1="311.3" y1="466" x2="311.3" y2="469.5" stroke="#000" stroke-width="1"/>
<text x="311.0" y="476.6" font-size="8.2" fill="#222" textLength="41.5" lengthAdjust="spacingAndGlyphs">12 Jan 2020</text>
<line x1="362.8" y1="466" x2="362.8" y2="469.5" stroke="#000" stroke-width="1"/>
<text x="362.5" y="476.6" font-size="8.2" fill="#222" textLength="38.2" lengthAdjust="spacingAndGlyphs">9 Feb 2020</text>
<line x1="414.3" y1="466" x2="414.3" y2="469.5" stroke="#000" stroke-width="1"/>
<text x="414.0" y="476.6" font-size="8.2" fill="#222" textLength="37.5" lengthAdjust="spacingAndGlyphs">8 Mar 2020</text>
<line x1="466.2" y1="466" x2="466.2" y2="469.5" stroke="#000" stroke-width="1"/>
<text x="465.9" y="476.6" font-size="8.2" fill="#222" textLength="37.1" lengthAdjust="spacingAndGlyphs">5 Apr 2020</text>
<line x1="517.7" y1="466" x2="517.7" y2="469.5" stroke="#000" stroke-width="1"/>
<text x="517.4000000000001" y="476.6" font-size="8.2" fill="#222" textLength="40.1" lengthAdjust="spacingAndGlyphs">3 May 2020</text>
<defs><linearGradient id="wg" x1="0" y1="0" x2="0" y2="1"><stop offset="0" stop-color="#E56B73"/><stop offset="1" stop-color="#DA626B"/></linearGradient></defs>
<rect x="243.5" y="450.8" width="179.3" height="31.7" fill="#FBFBF4"/>
<rect x="245" y="452.3" width="176.6" height="29.1" fill="url(#wg)"/>
<text x="289.6" y="472.8" font-family="DejaVu Sans, Liberation Sans, sans-serif" font-weight="200" font-size="18.8" fill="#FFF" stroke="#FFF" stroke-width="0.2" textLength="85" lengthAdjust="spacingAndGlyphs">instaforex</text>
</svg></body></html>
